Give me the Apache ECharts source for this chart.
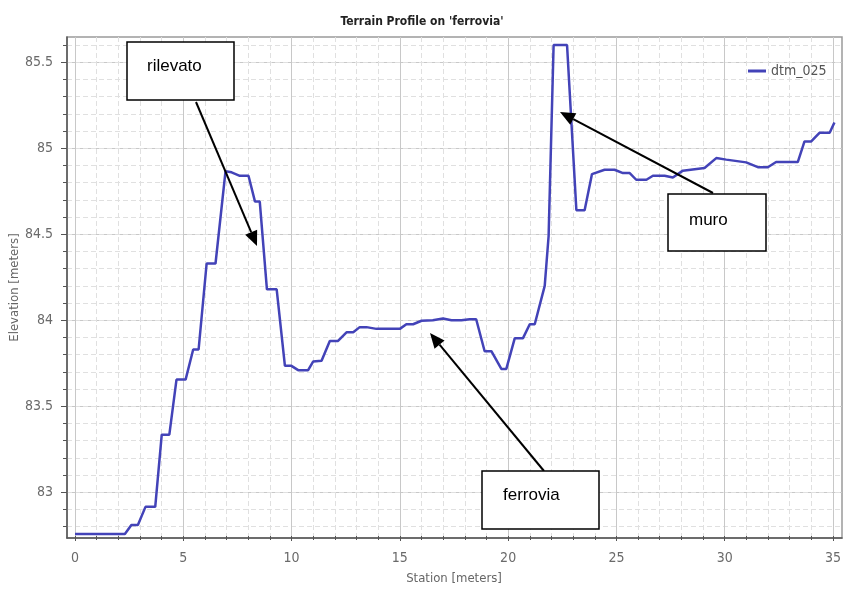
<!DOCTYPE html>
<html><head><meta charset="utf-8">
<script src="https://cdn.jsdelivr.net/npm/echarts@6/dist/echarts.min.js"></script>
<style>html,body{margin:0;padding:0;background:#fff}#c{width:844px;height:590px}</style>
</head><body><div id="c"></div>
<script>
// ---- data ----
const chartTitle = "Terrain Profile on 'ferrovia'";
const seriesName = 'dtm_025';
const xAxisName = 'Station [meters]';
const yAxisName = 'Elevation [meters]';
const stations = [0, 2.3, 2.6, 2.9, 3.25, 3.7, 4.0, 4.35, 4.68, 5.1, 5.45, 5.7, 6.07, 6.48, 6.94, 7.22, 7.6, 8.0, 8.3, 8.52, 8.85, 9.3, 9.68, 9.98, 10.29, 10.75, 10.98, 11.37, 11.75, 12.13, 12.52, 12.83, 13.13, 13.44, 13.9, 14.98, 15.28, 15.59, 15.98, 16.5, 16.97, 17.36, 17.82, 18.2, 18.5, 18.89, 19.2, 19.66, 19.89, 20.28, 20.66, 20.97, 21.2, 21.66, 21.84, 22.07, 22.69, 23.12, 23.5, 23.84, 24.42, 24.88, 25.27, 25.58, 25.88, 26.35, 26.65, 27.19, 27.57, 28.03, 29.03, 29.57, 30.03, 30.95, 31.49, 31.95, 32.33, 33.33, 33.64, 33.95, 34.33, 34.8, 35.02];
const elevations = [82.757, 82.757, 82.81, 82.81, 82.915, 82.915, 83.335, 83.335, 83.655, 83.655, 83.83, 83.83, 84.33, 84.33, 84.866, 84.86, 84.84, 84.84, 84.69, 84.69, 84.18, 84.18, 83.735, 83.735, 83.71, 83.71, 83.76, 83.765, 83.88, 83.88, 83.93, 83.93, 83.96, 83.96, 83.95, 83.95, 83.977, 83.977, 83.997, 84.0, 84.01, 84.0, 84.0, 84.006, 84.006, 83.82, 83.82, 83.717, 83.717, 83.896, 83.896, 83.977, 83.977, 84.2, 84.49, 85.6, 85.6, 84.64, 84.64, 84.85, 84.875, 84.875, 84.856, 84.856, 84.817, 84.817, 84.84, 84.84, 84.83, 84.87, 84.885, 84.943, 84.934, 84.918, 84.89, 84.89, 84.92, 84.92, 85.04, 85.04, 85.09, 85.09, 85.15];
const annotationLabels = ['rilevato', 'muro', 'ferrovia'];

// ---- layout / style ----
const FONT = '"DejaVu Sans Condensed", "Liberation Sans Narrow", "DejaVu Sans", sans-serif';
const LABEL_FONT = '"Liberation Sans", Arial, sans-serif';
const lineData = stations.map((s, i) => [s, elevations[i]]);

function arrow(x1, y1, x2, y2) {
  const dx = x2 - x1, dy = y2 - y1, L = Math.hypot(dx, dy);
  const ux = dx / L, uy = dy / L, hl = 15, hw = 6.5;
  const bx = x2 - ux * hl, by = y2 - uy * hl;
  return [
    {type: 'line', z: 100, shape: {x1: x1, y1: y1, x2: bx, y2: by}, style: {stroke: '#000', lineWidth: 2}},
    {type: 'polygon', z: 100, shape: {points: [[x2, y2], [bx - uy * hw, by + ux * hw], [bx + uy * hw, by - ux * hw]]}, style: {fill: '#000'}}
  ];
}
function box(x, y, w, h, text, tx, ty) {
  return [
    {type: 'rect', z: 100, shape: {x: x, y: y, width: w, height: h}, style: {fill: '#fff', stroke: '#000', lineWidth: 1.5}},
    {type: 'text', z: 101, style: {text: text, x: tx, y: ty, font: '17px ' + LABEL_FONT, fill: '#000', align: 'left', verticalAlign: 'middle'}}
  ];
}

const chart = echarts.init(document.getElementById('c'), null, {renderer: 'canvas'});
const majorSplit = {show: true, lineStyle: {color: '#c8c8c8', width: 1}};
const minorSplit = {show: true, lineStyle: {color: '#e0e0e0', width: 1, type: [5, 3]}};
const labelStyle = {color: '#6a6a6a', fontSize: 14, fontFamily: FONT};

chart.setOption({
  animation: false,
  backgroundColor: '#fff',
  title: {text: chartTitle, left: 'center', top: 11, textStyle: {fontSize: 12, fontWeight: 'bold', color: '#222', fontFamily: FONT}},
  legend: {data: [seriesName], left: 743, top: 59, icon: 'rect', itemWidth: 18, itemHeight: 3,
    textStyle: {color: '#555', fontSize: 14, fontFamily: FONT}},
  grid: [
    {left: 67, right: 2, top: 37, bottom: 52, show: true, borderColor: '#9a9a9a', borderWidth: 1.5, backgroundColor: 'transparent'},
    {left: 75, right: 10, top: 37, bottom: 52},
    {left: 67, right: 2, top: 62.3, bottom: 97.7},
    {left: 67, right: 2, top: 45.1, bottom: 63.3}
  ],
  xAxis: [
    {type: 'value', gridIndex: 0, min: -0.369, max: 35.369, axisLine: {show: true, onZero: false, lineStyle: {color: '#555', width: 1.5}},
      axisTick: {show: false}, axisLabel: {show: false}, splitLine: {show: false}},
    {type: 'value', gridIndex: 1, min: 0, max: 35, interval: 5, axisLine: {show: false},
      axisTick: {show: true, length: 5, lineStyle: {color: '#555'}},
      minorTick: {show: true, splitNumber: 5, length: 4, lineStyle: {color: '#555'}},
      splitLine: majorSplit, minorSplitLine: minorSplit,
      axisLabel: Object.assign({margin: 15}, labelStyle),
      name: xAxisName, nameLocation: 'middle', nameGap: 36, nameTextStyle: {color: '#666', fontSize: 13, fontFamily: FONT}},
    {type: 'value', gridIndex: 2, show: false, min: 0, max: 1},
    {type: 'value', gridIndex: 3, show: false, min: 0, max: 1}
  ],
  yAxis: [
    {type: 'value', gridIndex: 0, min: 82.734, max: 85.647, axisLine: {show: true, onZero: false, lineStyle: {color: '#555', width: 1.5}},
      axisTick: {show: false}, axisLabel: {show: false}, splitLine: {show: false},
      name: yAxisName, nameLocation: 'middle', nameGap: 46, nameTextStyle: {color: '#666', fontSize: 13, fontFamily: FONT}},
    {type: 'value', gridIndex: 1, show: false, min: 0, max: 1},
    {type: 'value', gridIndex: 2, min: 83, max: 85.5, interval: 0.5, axisLine: {show: false},
      axisTick: {show: true, length: 6, lineStyle: {color: '#555'}},
      splitLine: majorSplit, axisLabel: Object.assign({margin: 14}, labelStyle)},
    {type: 'value', gridIndex: 3, min: 82.8, max: 85.6, interval: 0.1, axisLine: {show: false},
      axisTick: {show: true, length: 4, lineStyle: {color: '#555'}},
      splitLine: minorSplit, axisLabel: {show: false}}
  ],
  series: [{
    name: seriesName, type: 'line', xAxisIndex: 0, yAxisIndex: 0, data: lineData,
    showSymbol: false, symbol: 'none', z: 5,
    lineStyle: {color: '#4343b8', width: 2.5}, itemStyle: {color: '#4343b8'}
  }],
  graphic: [].concat(
    arrow(196, 102, 257, 246),
    arrow(713, 193, 560, 112),
    arrow(544, 471, 430, 333),
    box(127, 42, 107, 58, annotationLabels[0], 147, 66),
    box(668, 194, 98, 57, annotationLabels[1], 689, 220),
    box(482, 471, 117, 58, annotationLabels[2], 503, 495)
  )
});
</script>
</body></html>
